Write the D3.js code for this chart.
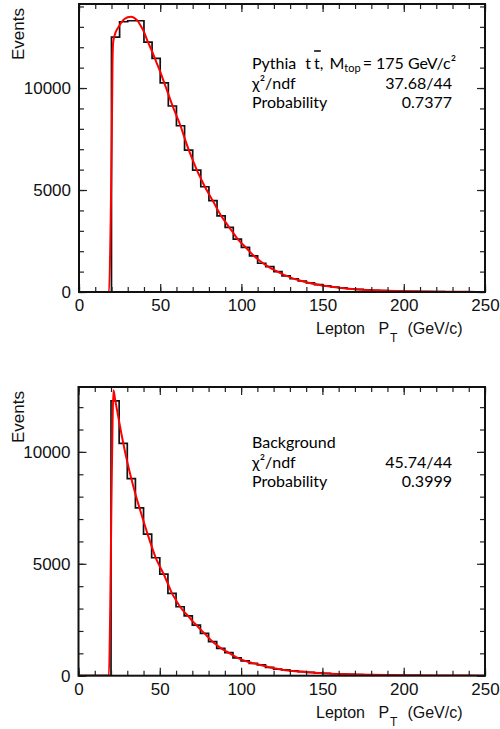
<!DOCTYPE html>
<html lang="en">
<head>
<meta charset="utf-8">
<title>Lepton PT fits</title>
<script src="https://d3js.org/d3.v7.min.js"></script>
<style>
  body { margin: 0; background: #fff; }
  svg { display: block; }
  .box-text { font-family: Lato, "Open Sans", sans-serif; fill: #000; }
  .ax-text { font-family: "Liberation Sans", Arial, sans-serif; fill: #111; }
</style>
</head>
<body>
<script>
var width = 500, height = 729;

// 5 GeV/c bins from 0 to 250
var binLow = d3.range(0, 250, 5);

// events per bin
var signalCounts = [0, 0, 0, 0, 12500, 13250, 13300, 13300, 12250, 11450,
  10250, 9120, 8150, 6960, 5980, 5160, 4480, 3730, 3170, 2590,
  2190, 1770, 1410, 1240, 1000, 790, 650, 540, 445, 365,
  300, 245, 200, 160, 130, 105, 85, 68, 55, 44,
  35, 28, 22, 18, 14, 11, 9, 7, 6, 5];
var backgroundCounts = [0, 0, 0, 0, 12280, 10380, 8810, 7500, 6330, 5270,
  4540, 3680, 3080, 2670, 2260, 1890, 1520, 1220, 1030, 800,
  660, 550, 480, 375, 290, 260, 215, 180, 150, 125,
  105, 88, 72, 60, 49, 40, 33, 27, 22, 18,
  14, 12, 10, 8, 6, 5, 4, 3, 3, 2];

// fitted functions (red), sampled points
var signalFitX = [0, 18.5, 19.5, 20.2, 20.6, 21, 22, 24, 26, 28, 30, 32, 34, 36, 38, 40, 42.5, 45, 47.5, 50,
  52.5, 55, 57.5, 60, 62.5, 65, 67.5, 70, 72.5, 75, 77.5, 80, 82.5, 85, 87.5, 90, 92.5, 95, 97.5, 100,
  102.5, 105, 107.5, 110, 112.5, 115, 117.5, 120, 122.5, 125, 127.5, 130, 135, 140, 150, 160, 170, 180,
  190, 200, 210, 220, 230, 240, 250];
var signalFitY = [0, 0, 3500, 7500, 11000, 12200, 12600, 12950, 13200, 13380, 13470, 13500, 13440, 13300, 13050, 12750, 12250, 11800, 11300, 10800,
  10250, 9700, 9150, 8650, 8150, 7550, 6980, 6480, 5990, 5570, 5160, 4800, 4460, 4080, 3740, 3450, 3170, 2900, 2620, 2400,
  2200, 1990, 1790, 1620, 1460, 1320, 1200, 1090, 990, 890, 800, 720, 590, 480, 320, 212, 140, 92,
  60, 40, 26, 17, 11, 7, 4];

var bkgFitX = [0, 18.7, 19.5, 20.3, 21, 21.5, 22.5, 25, 27.5, 30, 32.5, 35, 37.5, 40, 42.5, 45, 47.5, 50,
  52.5, 55, 57.5, 60, 62.5, 65, 67.5, 70, 72.5, 75, 77.5, 80, 82.5, 85, 87.5, 90, 92.5, 95, 97.5, 100,
  105, 110, 115, 120, 125, 130, 140, 150, 160, 170, 180, 190, 200, 220, 240, 250];
var bkgFitY = [0, 0, 3000, 8000, 11500, 12750, 12350, 11350, 10400, 9550, 8800, 8120, 7500, 6900, 6330, 5780, 5270, 4880,
  4520, 4100, 3680, 3370, 3080, 2850, 2660, 2450, 2260, 2070, 1890, 1700, 1520, 1370, 1230, 1120, 1020, 910, 810, 730,
  600, 510, 420, 330, 270, 225, 165, 115, 80, 55, 38, 26, 18, 8, 4, 2];

var xTickLabels = [0, 50, 100, 150, 200, 250];
var yTickLabels = [0, 5000, 10000];
var xMinor = d3.range(0, 251, 10);

var svg = d3.select('body').append('svg')
  .attr('width', width)
  .attr('height', height);

function drawPanel(p) {
  var x = d3.scaleLinear().domain([0, 250]).range([p.left, p.right]);
  var y = d3.scaleLinear().domain([0, p.yMax]).range([p.bottom, p.top]);
  var yMinor = d3.range(0, p.yMax, 1000);
  var g = svg.append('g');

  var clipId = 'clip' + p.id;
  g.append('clipPath').attr('id', clipId)
    .append('rect')
    .attr('x', p.left).attr('y', p.top - 2)
    .attr('width', p.right - p.left).attr('height', p.bottom - p.top + 2);

  // histogram
  var pts = binLow.map(function(b, i) { return [b, p.counts[i]]; });
  pts.push([250, p.counts[p.counts.length - 1]]);
  g.append('path')
    .attr('clip-path', 'url(#' + clipId + ')')
    .attr('d', d3.line().curve(d3.curveStepAfter)
      .x(function(d) { return x(d[0]); })
      .y(function(d) { return y(d[1]); })(pts))
    .attr('fill', 'none')
    .attr('stroke', '#111')
    .attr('stroke-width', 1.7);

  // fit curve
  var fit = p.fitX.map(function(v, i) { return [v, p.fitY[i]]; });
  g.append('path')
    .attr('clip-path', 'url(#' + clipId + ')')
    .attr('d', d3.line().curve(d3.curveMonotoneX)
      .x(function(d) { return x(d[0]); })
      .y(function(d) { return y(d[1]); })(fit))
    .attr('fill', 'none')
    .attr('stroke', '#f00')
    .attr('stroke-width', 2);

  // ticks on all four sides, pointing inwards
  function axisGroup(axis, tx, ty) {
    var a = g.append('g').attr('transform', 'translate(' + tx + ',' + ty + ')').call(axis);
    a.select('.domain').remove();
    a.selectAll('line').attr('stroke', '#222').attr('stroke-width', 1.2);
    a.selectAll('text').filter(function() { return this.textContent === ''; }).remove();
    return a;
  }
  axisGroup(d3.axisBottom(x).tickValues(xMinor).tickSize(-5).tickFormat(''), 0, p.bottom);
  axisGroup(d3.axisTop(x).tickValues(xMinor).tickSize(-5).tickFormat(''), 0, p.top);
  axisGroup(d3.axisTop(x).tickValues(xTickLabels).tickSize(-8).tickFormat(''), 0, p.top);
  axisGroup(d3.axisLeft(y).tickValues(yMinor).tickSize(-5).tickFormat(''), p.left, 0);
  axisGroup(d3.axisRight(y).tickValues(yMinor).tickSize(-5).tickFormat(''), p.right, 0);
  axisGroup(d3.axisRight(y).tickValues(yTickLabels).tickSize(-8).tickFormat(''), p.right, 0);

  var xa = axisGroup(d3.axisBottom(x).tickValues(xTickLabels).tickSize(-8).tickPadding(7).tickFormat(d3.format('d')), 0, p.bottom);
  xa.selectAll('text').attr('class', 'ax-text').attr('font-size', 17);
  var ya = axisGroup(d3.axisLeft(y).tickValues(yTickLabels).tickSize(-8).tickPadding(8).tickFormat(d3.format('d')), p.left, 0);
  ya.selectAll('text').attr('class', 'ax-text').attr('font-size', 17);

  // frame
  g.append('rect')
    .attr('x', p.left).attr('y', p.top)
    .attr('width', p.right - p.left).attr('height', p.bottom - p.top)
    .attr('fill', 'none')
    .attr('stroke', '#111')
    .attr('stroke-width', 2);

  // axis titles
  g.append('text')
    .attr('class', 'ax-text')
    .attr('font-size', 17)
    .attr('text-anchor', 'end')
    .attr('transform', 'translate(' + (p.left - 55) + ',' + (p.top + 4) + ') rotate(-90)')
    .text('Events');

  var xt = g.append('text')
    .attr('class', 'ax-text')
    .attr('font-size', 16)
    .attr('x', 316)
    .attr('y', p.bottom + 42);
  xt.append('tspan').text('Lepton');
  xt.append('tspan').attr('dx', 9).text(' P');
  xt.append('tspan').attr('font-size', 12).attr('dx', 1).attr('dy', 8).text('T');
  xt.append('tspan').attr('dx', 10).attr('dy', -8).text('(GeV/c)');

  // fit info box
  var bx = 252, bxr = 452, by = p.top + p.boxTop;
  if (p.signal) {
    // pieces: text, font size, baseline shift, gap before
    var pieces = [['Pythia', 16, 0, 0], ['t', 16, 0, 9], ['t', 16, 0, 3], [',', 16, 0, 0],
      ['M', 16, 0, 6], ['top', 11, 3, 0], ['= 175 GeV/c\u00b2', 16, 0, 2]];
    var cx = bx;
    pieces.forEach(function(pc, i) {
      cx += pc[3];
      var t = g.append('text').attr('class', 'box-text')
        .style('font-size', pc[1] + 'px')
        .attr('x', cx).attr('y', by + pc[2])
        .text(pc[0]);
      var w = t.node().getComputedTextLength();
      if (i === 2) {
        g.append('line')
          .attr('x1', cx).attr('x2', cx + w + 1)
          .attr('y1', by - 18).attr('y2', by - 18)
          .attr('stroke', '#000').attr('stroke-width', 1.5);
      }
      cx += w;
    });
  } else {
    g.append('text').attr('class', 'box-text').style('font-size', '16px')
      .attr('x', bx).attr('y', by).text('Background');
  }
  var rows = [['\u03c7\u00b2/ndf', p.chi], ['Probability', p.prob]];
  rows.forEach(function(r, i) {
    var yy = by + 19.5 * (i + 1);
    g.append('text').attr('class', 'box-text').style('font-size', '16px')
      .attr('x', bx).attr('y', yy).text(r[0]);
    g.append('text').attr('class', 'box-text').style('font-size', '16px')
      .attr('x', bxr).attr('y', yy)
      .attr('text-anchor', 'end').text(r[1]);
  });
}

drawPanel({
  id: 1, signal: true,
  left: 79, right: 485, top: 4, bottom: 292, yMax: 14120,
  counts: signalCounts, fitX: signalFitX, fitY: signalFitY,
  boxTop: 65, chi: '37.68/44', prob: '0.7377'
});

drawPanel({
  id: 2, signal: false,
  left: 78.5, right: 485, top: 387, bottom: 675.7, yMax: 12900,
  counts: backgroundCounts, fitX: bkgFitX, fitY: bkgFitY,
  boxTop: 61, chi: '45.74/44', prob: '0.3999'
});
</script>
</body>
</html>
